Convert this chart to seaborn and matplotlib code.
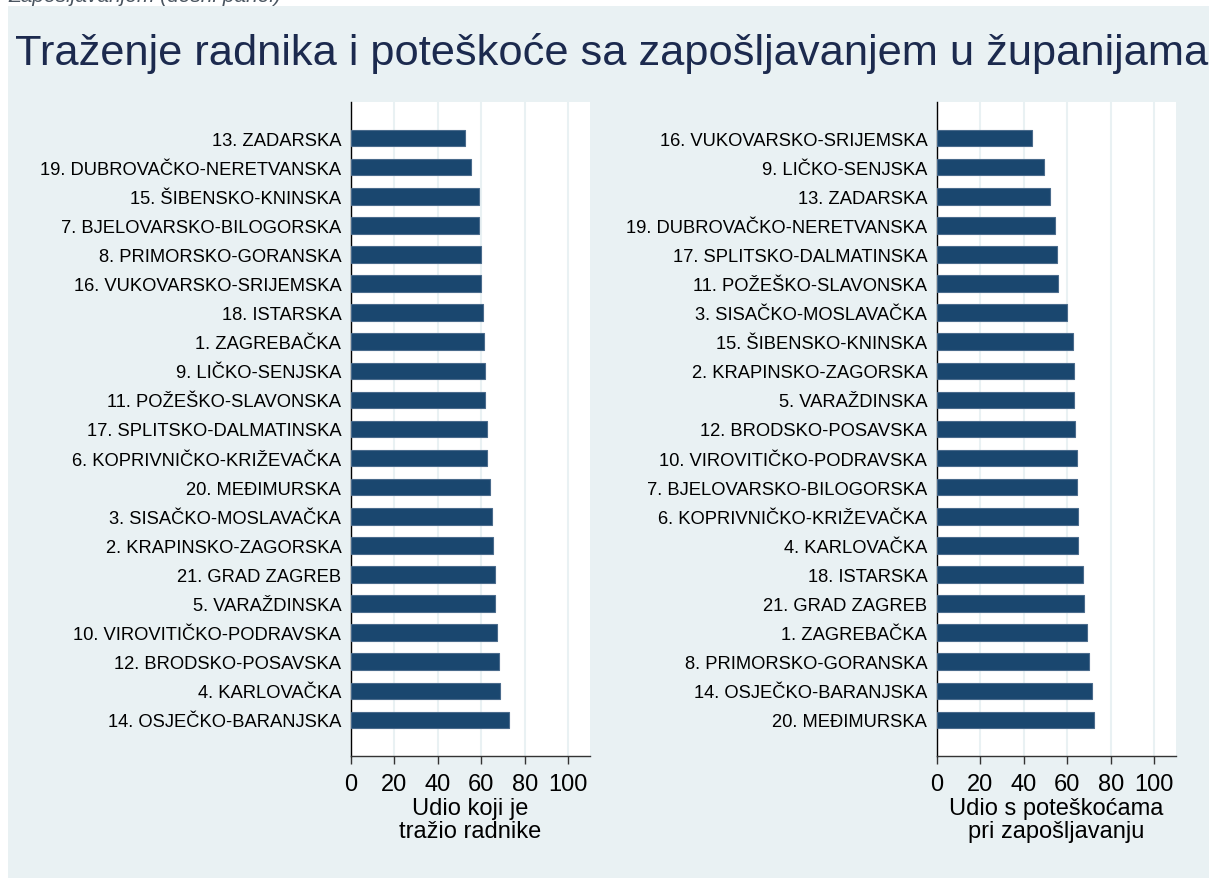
import numpy as np
import pandas as pd
import seaborn as sns
import matplotlib.pyplot as plt
from matplotlib.patches import Rectangle

# Podaci - lijevi panel (udio koji je tražio radnike)
lijevo_zupanije = ["13. ZADARSKA", "19. DUBROVAČKO-NERETVANSKA", "15. ŠIBENSKO-KNINSKA",
                   "7. BJELOVARSKO-BILOGORSKA", "8. PRIMORSKO-GORANSKA", "16. VUKOVARSKO-SRIJEMSKA",
                   "18. ISTARSKA", "1. ZAGREBAČKA", "9. LIČKO-SENJSKA", "11. POŽEŠKO-SLAVONSKA",
                   "17. SPLITSKO-DALMATINSKA", "6. KOPRIVNIČKO-KRIŽEVAČKA", "20. MEĐIMURSKA",
                   "3. SISAČKO-MOSLAVAČKA", "2. KRAPINSKO-ZAGORSKA", "21. GRAD ZAGREB",
                   "5. VARAŽDINSKA", "10. VIROVITIČKO-PODRAVSKA", "12. BRODSKO-POSAVSKA",
                   "4. KARLOVAČKA", "14. OSJEČKO-BARANJSKA"]
lijevo_udio = [52.4, 55.0, 58.8, 58.8, 59.8, 59.8, 60.7, 61.0, 61.5, 61.9, 62.4,
               62.8, 64.1, 65.0, 65.4, 66.2, 66.2, 67.4, 67.9, 68.8, 72.8]

# Podaci - desni panel (udio s poteškoćama pri zapošljavanju)
desno_zupanije = ["16. VUKOVARSKO-SRIJEMSKA", "9. LIČKO-SENJSKA", "13. ZADARSKA",
                  "19. DUBROVAČKO-NERETVANSKA", "17. SPLITSKO-DALMATINSKA", "11. POŽEŠKO-SLAVONSKA",
                  "3. SISAČKO-MOSLAVAČKA", "15. ŠIBENSKO-KNINSKA", "2. KRAPINSKO-ZAGORSKA",
                  "5. VARAŽDINSKA", "12. BRODSKO-POSAVSKA", "10. VIROVITIČKO-PODRAVSKA",
                  "7. BJELOVARSKO-BILOGORSKA", "6. KOPRIVNIČKO-KRIŽEVAČKA", "4. KARLOVAČKA",
                  "18. ISTARSKA", "21. GRAD ZAGREB", "1. ZAGREBAČKA", "8. PRIMORSKO-GORANSKA",
                  "14. OSJEČKO-BARANJSKA", "20. MEĐIMURSKA"]
desno_udio = [43.6, 49.2, 52.1, 54.3, 55.2, 55.7, 60.0, 62.6, 62.9, 62.9, 63.5,
              64.3, 64.3, 64.8, 64.8, 67.4, 67.8, 69.1, 70.0, 71.3, 72.2]

x_ticks = [0, 20, 40, 60, 80, 100]

pozadina = "#e9f1f3"
plava = "#1a476f"

sns.set_style("white")
plt.rcParams['font.family'] = ['Liberation Sans', 'DejaVu Sans']

fig = plt.figure(figsize=(12.09, 8.79), dpi=100, facecolor="white")
fig.patches.append(Rectangle((8 / 1209, 0), 1, 1 - 7 / 879, transform=fig.transFigure,
                             facecolor=pozadina, edgecolor="none", zorder=-10))

# odrezani tekst na vrhu (u originalu se vidi samo donji dio)
fig.text(8 / 1209, 1 + 3 / 879, "Zapošljavanjem (desni panel)", fontsize=15, style="italic",
         color="#4a5560", va="center", ha="left")

fig.text(15 / 1209, 1 - 65 / 879, "Traženje radnika i poteškoće sa zapošljavanjem u županijama",
         fontsize=31.2, color="#1c2a4e", va="baseline", ha="left")

paneli = [
    (351, lijevo_zupanije, lijevo_udio, "Udio koji je\ntražio radnike"),
    (937, desno_zupanije, desno_udio, "Udio s poteškoćama\npri zapošljavanju"),
]

for x0, zup, udio, naslov_x in paneli:
    ax = fig.add_axes([x0 / 1209, 1 - 757 / 879, 239 / 1209, 654 / 879])
    df = pd.DataFrame({"zupanija": zup, "udio": udio})
    sns.barplot(data=df, x="udio", y="zupanija", order=zup, orient="h", color=plava,
                saturation=1, width=0.57, edgecolor="#4a6b8c", linewidth=0.8, ax=ax, zorder=3)
    ax.set_facecolor("white")
    ax.set_xlim(0, 110)
    ax.set_ylim(len(zup) - 1 + 1.24, -1.24)
    ax.set_xticks(x_ticks)
    ax.grid(axis="x", color=pozadina, linewidth=1.5, zorder=0)
    ax.set_axisbelow(True)
    for s in ["top", "right"]:
        ax.spines[s].set_visible(False)
    ax.spines["left"].set_color("black")
    ax.spines["left"].set_linewidth(1.0)
    ax.spines["bottom"].set_color("#333333")
    ax.spines["bottom"].set_linewidth(1.0)
    ax.tick_params(axis="y", length=0, pad=7, labelsize=13.2, labelcolor="black")
    ax.tick_params(axis="x", length=6, width=1, color="#333333", pad=6, labelsize=17,
                   labelcolor="black", bottom=True)
    ax.set_ylabel("")
    ax.set_xlabel(naslov_x, fontsize=17, color="black", labelpad=2, linespacing=1.05)

plt.savefig("out.png", dpi=100, facecolor=fig.get_facecolor())
